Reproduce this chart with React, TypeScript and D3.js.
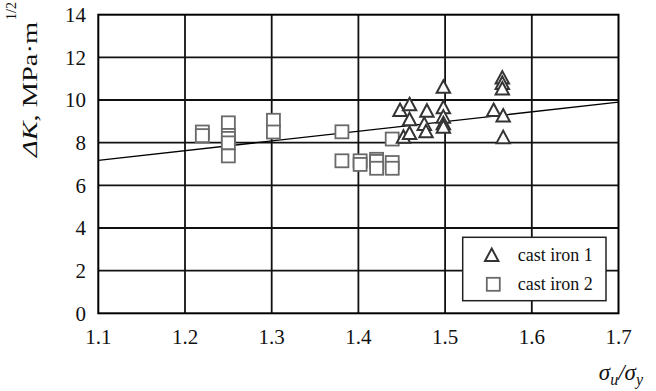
import React from 'react';
import * as d3 from 'd3';

// cast iron 1 (triangles)
const iron1X = [1.448, 1.452, 1.459, 1.459, 1.459, 1.476, 1.478, 1.479, 1.498, 1.498, 1.498, 1.498, 1.498, 1.556, 1.566, 1.566, 1.566, 1.567, 1.567];
const iron1Y = [9.53, 8.28, 9.8, 9.1, 8.45, 8.88, 8.53, 9.5, 10.62, 9.66, 9.22, 8.91, 8.75, 9.53, 11.05, 10.8, 10.54, 9.27, 8.26];

// cast iron 2 (squares)
const iron2X = [1.22, 1.22, 1.25, 1.25, 1.25, 1.25, 1.25, 1.302, 1.302, 1.381, 1.381, 1.402, 1.402, 1.421, 1.421, 1.421, 1.439, 1.439, 1.439];
const iron2Y = [8.5, 8.33, 8.93, 8.34, 8.2, 7.99, 7.38, 9.05, 8.5, 8.51, 7.15, 7.15, 6.98, 7.22, 7.12, 6.8, 8.17, 7.07, 6.8];

// fitted trend line end points
const fitX = [1.1, 1.7];
const fitY = [7.17, 9.9];

const xTicks = [1.1, 1.2, 1.3, 1.4, 1.5, 1.6, 1.7];
const yTicks = [0, 2, 4, 6, 8, 10, 12, 14];
const legendLabels = ['cast iron 1', 'cast iron 2'];

const W = 656;
const H = 391;
const font = { fontFamily: '"Liberation Serif"' };

const triPath = 'M0,-6.5L6.7,6L-6.7,6Z';

const x = d3.scaleLinear().domain([1.1, 1.7]).range([98.3, 618.5]);
const y = d3.scaleLinear().domain([0, 14]).range([313.3, 14.7]);

const fitLine = d3.line<number>().x((d, i) => x(fitX[i])).y(d => y(d));

const Triangle = ({ cx, cy }: { cx: number; cy: number }) => (
  <path d={triPath} transform={`translate(${cx},${cy})`} fill="#fff" stroke="#333" strokeWidth={2} />
);

const Square = ({ cx, cy }: { cx: number; cy: number }) => (
  <rect x={cx - 6.5} y={cy - 6.5} width={13} height={13} fill="#fff" stroke="#6a6a6a" strokeWidth={1.8} />
);

const App = () => (
  <svg width={W} height={H} style={{ position: 'absolute', left: 0, top: 0, background: '#fff' }}>
    {/* grid */}
    {xTicks.slice(1, -1).map(t => (
      <line key={`v${t}`} x1={x(t)} x2={x(t)} y1={y(0)} y2={y(14)} stroke="#111" strokeWidth={1.8} />
    ))}
    {yTicks.slice(1, -1).map(t => (
      <line key={`h${t}`} x1={x(1.1)} x2={x(1.7)} y1={y(t)} y2={y(t)} stroke="#111" strokeWidth={1.8} />
    ))}
    <rect
      x={x(1.1)} y={y(14)} width={x(1.7) - x(1.1)} height={y(0) - y(14)}
      fill="none" stroke="#000" strokeWidth={2}
    />

    {/* trend */}
    <path d={fitLine(fitY) || ''} fill="none" stroke="#000" strokeWidth={1.3} />

    {/* data */}
    {iron2X.map((v, i) => <Square key={`s${i}`} cx={x(v)} cy={y(iron2Y[i])} />)}
    {iron1X.map((v, i) => <Triangle key={`t${i}`} cx={x(v)} cy={y(iron1Y[i])} />)}

    {/* ticks */}
    {xTicks.map(t => (
      <text key={`xt${t}`} x={x(t)} y={344} textAnchor="middle" fontSize={21} fill="#111" style={font}>
        {t.toFixed(1)}
      </text>
    ))}
    {yTicks.map(t => (
      <text key={`yt${t}`} x={86} y={y(t)} dy="0.35em" textAnchor="end" fontSize={21} fill="#111" style={font}>
        {t}
      </text>
    ))}

    {/* axis titles */}
    <text
      transform="translate(37,157) rotate(-90)" fontSize={22} fill="#111" style={font}
      textLength={135} lengthAdjust="spacingAndGlyphs"
    >
      <tspan fontStyle="italic">ΔK</tspan>
      <tspan>, MPa·m</tspan>
    </text>
    <text transform="translate(16,20) rotate(-90)" fontSize={14} fill="#111" style={font}>
      1/2
    </text>
    <text x={643} y={380} textAnchor="end" fontSize={23} fontStyle="italic" fill="#111" style={font}>
      <tspan>σ</tspan>
      <tspan fontSize={16} dy={5}>u</tspan>
      <tspan dy={-5}>/σ</tspan>
      <tspan fontSize={16} dy={5}>y</tspan>
    </text>

    {/* legend */}
    <rect x={462.7} y={237.3} width={143.3} height={63.4} fill="#fff" stroke="#222" strokeWidth={1.5} />
    <Triangle cx={491.7} cy={255} />
    <Square cx={493.3} cy={284.3} />
    {legendLabels.map((l, i) => (
      <text key={l} x={517.7} y={260.7 + i * 29.3} fontSize={18} fill="#111" style={font}>
        {l}
      </text>
    ))}
  </svg>
);

export default App;
